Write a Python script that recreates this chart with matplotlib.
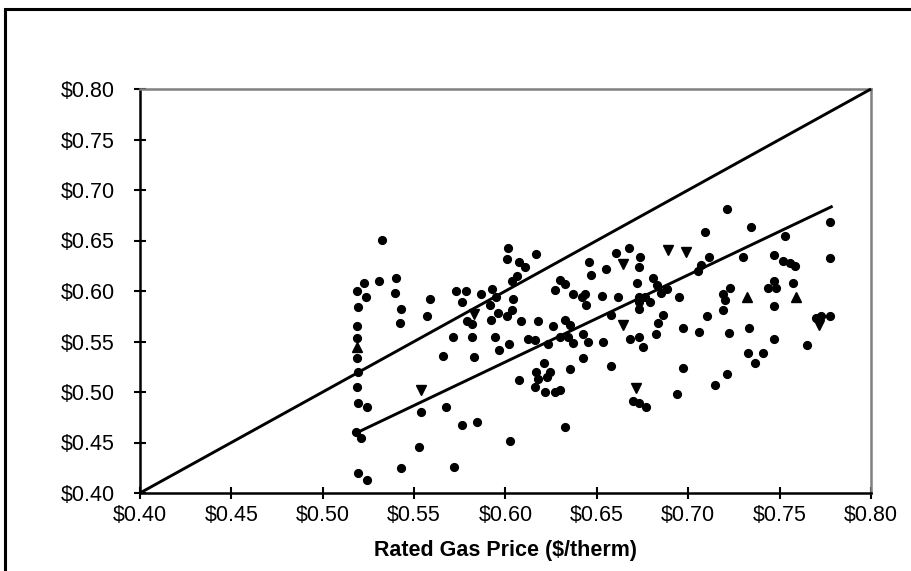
import matplotlib
matplotlib.use("Agg")
import matplotlib.pyplot as plt
from matplotlib.patches import Rectangle

plt.rcParams['font.family'] = ['Liberation Sans', 'DejaVu Sans']

# Scatter points: (rated gas price, actual price)
circ_x = [0.5326, 0.5223, 0.5190, 0.5235, 0.5310, 0.5400, 0.5395, 0.5427, 0.5425, 0.5195,
          0.5186, 0.5190, 0.5186, 0.5195, 0.5186, 0.5195, 0.5244, 0.5180, 0.5208, 0.5195,
          0.5240, 0.5427,
          0.5585, 0.5572, 0.5730, 0.5786, 0.5762, 0.5867, 0.5925, 0.5950, 0.5790, 0.5817,
          0.5917, 0.5920, 0.5960, 0.5714, 0.5817, 0.5944, 0.5962, 0.5660, 0.5830, 0.5540,
          0.5672, 0.5762, 0.5844, 0.5527, 0.5717,
          0.6014, 0.6010, 0.6167, 0.6076, 0.6105, 0.6063, 0.6033, 0.6456, 0.6467, 0.6299,
          0.6326, 0.6270, 0.6367, 0.6434, 0.6420, 0.6440, 0.6040, 0.6033, 0.6010, 0.6087,
          0.6180, 0.6262, 0.6326, 0.6353, 0.6018, 0.6123, 0.6163, 0.6235, 0.6299, 0.6344,
          0.6371, 0.6425, 0.6452, 0.6425, 0.6353, 0.6208, 0.6244, 0.6167, 0.6180, 0.6226,
          0.6076, 0.6160, 0.6214, 0.6272, 0.6299, 0.6326, 0.6022,
          0.6678, 0.6606, 0.6737, 0.6728, 0.6551, 0.6722, 0.6806, 0.6828, 0.6882, 0.6849,
          0.6527, 0.6618, 0.6733, 0.6764, 0.6951, 0.6728, 0.6791, 0.6733, 0.6576, 0.6864,
          0.6837, 0.6970, 0.6824, 0.6728, 0.6682, 0.6755, 0.6533, 0.6576, 0.6970, 0.6940,
          0.6697, 0.6728, 0.6769,
          0.7214, 0.7094, 0.7344, 0.7112, 0.7072, 0.7054, 0.7299, 0.7467, 0.7467, 0.7434,
          0.7480, 0.7226, 0.7190, 0.7203, 0.7467, 0.7190, 0.7105, 0.7058, 0.7221, 0.7335,
          0.7467, 0.7326, 0.7407, 0.7366, 0.7214, 0.7148,
          0.7773, 0.7527, 0.7518, 0.7582, 0.7555, 0.7773, 0.7573, 0.7773, 0.7728, 0.7700,
          0.7649]
circ_y = [0.6505, 0.6076, 0.6000, 0.5940, 0.6100, 0.6125, 0.5980, 0.5820, 0.5680, 0.5838,
          0.5654, 0.5530, 0.5334, 0.5200, 0.5046, 0.4894, 0.4855, 0.4607, 0.4542, 0.4200,
          0.4129, 0.4244,
          0.5918, 0.5756, 0.6003, 0.6003, 0.5894, 0.5970, 0.6023, 0.5944, 0.5706, 0.5673,
          0.5861, 0.5713, 0.5780, 0.5548, 0.5548, 0.5548, 0.5416, 0.5360, 0.5350, 0.4806,
          0.4855, 0.4674, 0.4700, 0.4459, 0.4261,
          0.6422, 0.6317, 0.6366, 0.6290, 0.6234, 0.6149, 0.6102, 0.6290, 0.6158, 0.6109,
          0.6069, 0.6010, 0.5970, 0.5970, 0.5937, 0.5861, 0.5918, 0.5812, 0.5753, 0.5706,
          0.5706, 0.5657, 0.5713, 0.5663, 0.5475, 0.5525, 0.5515, 0.5475, 0.5548, 0.5548,
          0.5482, 0.5574, 0.5498, 0.5333, 0.5228, 0.5290, 0.5200, 0.5200, 0.5126, 0.5152,
          0.5119, 0.5046, 0.4997, 0.5003, 0.5020, 0.4650, 0.4518,
          0.6422, 0.6373, 0.6340, 0.6241, 0.6214, 0.6076, 0.6125, 0.6060, 0.6020, 0.5977,
          0.5950, 0.5944, 0.5944, 0.5944, 0.5944, 0.5894, 0.5894, 0.5818, 0.5762, 0.5762,
          0.5680, 0.5630, 0.5574, 0.5548, 0.5525, 0.5442, 0.5492, 0.5258, 0.5234, 0.4980,
          0.4914, 0.4888, 0.4855,
          0.6812, 0.6581, 0.6630, 0.6340, 0.6257, 0.6201, 0.6340, 0.6357, 0.6102, 0.6026,
          0.6026, 0.6026, 0.5970, 0.5911, 0.5851, 0.5812, 0.5756, 0.5597, 0.5588, 0.5630,
          0.5522, 0.5390, 0.5390, 0.5284, 0.5178, 0.5069,
          0.6686, 0.6545, 0.6300, 0.6248, 0.6274, 0.6323, 0.6083, 0.5752, 0.5752, 0.5729,
          0.5465]

tdown_x = [0.5830, 0.5540, 0.6642, 0.6888, 0.6985, 0.6642, 0.6715, 0.7715]
tdown_y = [0.5772, 0.5020, 0.6267, 0.6406, 0.6390, 0.5663, 0.5036, 0.5663]

tup_x = [0.5190, 0.7322, 0.7587]
tup_y = [0.5450, 0.5937, 0.5937]

# Reference lines
equal_x = [0.40, 0.80]
equal_y = [0.40, 0.80]
trend_x = [0.519, 0.779]
trend_y = [0.460, 0.684]

xticks = [0.40, 0.45, 0.50, 0.55, 0.60, 0.65, 0.70, 0.75, 0.80]
yticks = [0.40, 0.45, 0.50, 0.55, 0.60, 0.65, 0.70, 0.75, 0.80]

W, H = 912, 571
fig = plt.figure(figsize=(W / 100, H / 100), dpi=100)
ax = fig.add_axes([140 / W, 1 - 493 / H, (871 - 140) / W, (493 - 89) / H])

ax.plot(equal_x, equal_y, color='black', lw=2.1, solid_capstyle='butt', zorder=3, clip_on=False)
ax.plot(trend_x, trend_y, color='black', lw=2.1, solid_capstyle='butt', zorder=3)
ax.plot(circ_x, circ_y, 'o', color='black', ms=5.6, zorder=4)
ax.plot(tdown_x, tdown_y, 'v', color='black', ms=6.5, zorder=4)
ax.plot(tup_x, tup_y, '^', color='black', ms=6.5, zorder=4)

ax.set_xlim(0.40, 0.80)
ax.set_ylim(0.40, 0.80)
ax.set_xticks(xticks)
ax.set_yticks(yticks)
ax.set_xticklabels([f"${v:.2f}" for v in xticks])
ax.set_yticklabels([f"${v:.2f}" for v in yticks])
ax.tick_params(direction='inout', length=8, width=1.5, labelsize=15.5, color='black')
ax.tick_params(axis='x', pad=4.5)
ax.tick_params(axis='y', pad=14)

for s in ('left', 'bottom'):
    ax.spines[s].set_color('black')
    ax.spines[s].set_linewidth(1.8)
for s in ('top', 'right'):
    ax.spines[s].set_color('#808080')
    ax.spines[s].set_linewidth(1.8)

ax.set_xlabel('Rated Gas Price ($/therm)', fontsize=15.5, fontweight='bold', labelpad=10)

# outer chart frame (right/bottom edges lie outside the image)
fig.patches.append(Rectangle((5 / W, -0.1), 1.2, 1.1 - 9 / H, transform=fig.transFigure,
                             fill=False, edgecolor='black', lw=2.2))

fig.savefig('out.png', dpi=100)
